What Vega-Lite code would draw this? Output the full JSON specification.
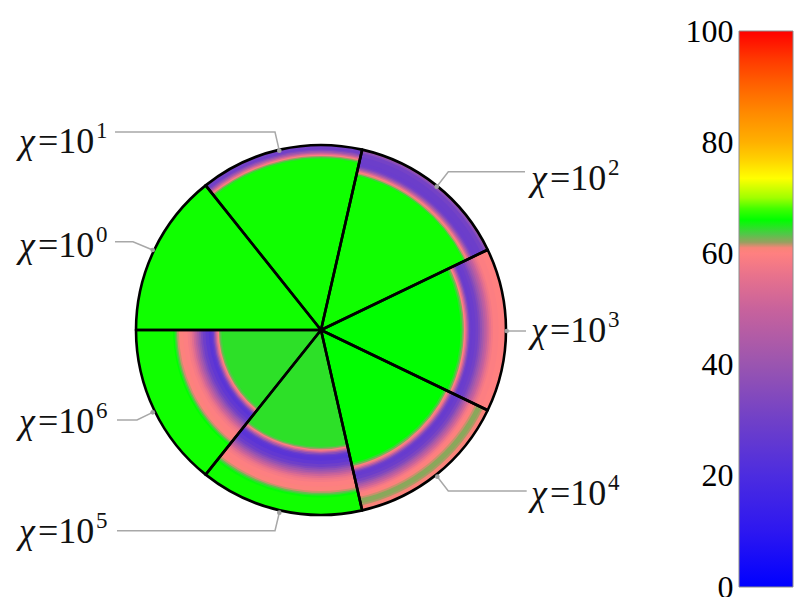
{
  "$schema": "https://vega.github.io/schema/vega-lite/v6.json",
  "background": "white",
  "padding": {"left": 0, "top": 0, "right": 0, "bottom": -6},
  "spacing": 97,
  "bounds": "flush",
  "config": {"view": {"stroke": null}},
  "datasets": {
    "sectors": [
      {"s": 0, "a0": 0, "a1": 51.4286, "e": "0", "lx": -1.6237, "ly": 0.3925},
      {"s": 1, "a0": 51.4286, "a1": 102.8571, "e": "1", "lx": -1.6237, "ly": 0.9516},
      {"s": 2, "a0": 102.8571, "a1": 154.2857, "e": "2", "lx": 1.129, "ly": 0.7527},
      {"s": 3, "a0": 154.2857, "a1": 205.7143, "e": "3", "lx": 1.129, "ly": -0.0645},
      {"s": 4, "a0": 205.7143, "a1": 257.1429, "e": "4", "lx": 1.129, "ly": -0.9409},
      {"s": 5, "a0": 257.1429, "a1": 308.5714, "e": "5", "lx": -1.6237, "ly": -1.1452},
      {"s": 6, "a0": 308.5714, "a1": 360, "e": "6", "lx": -1.6237, "ly": -0.5538}
    ],
    "profile": [
      {"s": 0, "r": 1.000, "v": 66.5},

      {"s": 1, "r": 1.000, "v": 31},
      {"s": 1, "r": 0.984, "v": 30},
      {"s": 1, "r": 0.975, "v": 34},
      {"s": 1, "r": 0.968, "v": 40},
      {"s": 1, "r": 0.961, "v": 47},
      {"s": 1, "r": 0.954, "v": 54},
      {"s": 1, "r": 0.947, "v": 59.5},
      {"s": 1, "r": 0.940, "v": 62},
      {"s": 1, "r": 0.933, "v": 64.5},
      {"s": 1, "r": 0.925, "v": 66.5},

      {"s": 2, "r": 1.000, "v": 42},
      {"s": 2, "r": 0.990, "v": 36},
      {"s": 2, "r": 0.980, "v": 31},
      {"s": 2, "r": 0.960, "v": 29},
      {"s": 2, "r": 0.930, "v": 28.5},
      {"s": 2, "r": 0.915, "v": 30},
      {"s": 2, "r": 0.907, "v": 34},
      {"s": 2, "r": 0.900, "v": 40},
      {"s": 2, "r": 0.893, "v": 47},
      {"s": 2, "r": 0.886, "v": 54},
      {"s": 2, "r": 0.879, "v": 59.5},
      {"s": 2, "r": 0.872, "v": 61.5},
      {"s": 2, "r": 0.865, "v": 64},
      {"s": 2, "r": 0.857, "v": 66.5},

      {"s": 3, "r": 1.000, "v": 60},
      {"s": 3, "r": 0.960, "v": 59.5},
      {"s": 3, "r": 0.930, "v": 58},
      {"s": 3, "r": 0.920, "v": 56},
      {"s": 3, "r": 0.910, "v": 53},
      {"s": 3, "r": 0.900, "v": 49.5},
      {"s": 3, "r": 0.890, "v": 46},
      {"s": 3, "r": 0.880, "v": 42},
      {"s": 3, "r": 0.870, "v": 38},
      {"s": 3, "r": 0.860, "v": 34},
      {"s": 3, "r": 0.850, "v": 30.5},
      {"s": 3, "r": 0.835, "v": 28.5},
      {"s": 3, "r": 0.818, "v": 28},
      {"s": 3, "r": 0.808, "v": 31},
      {"s": 3, "r": 0.801, "v": 38},
      {"s": 3, "r": 0.794, "v": 47},
      {"s": 3, "r": 0.787, "v": 55},
      {"s": 3, "r": 0.780, "v": 60},
      {"s": 3, "r": 0.772, "v": 62.5},
      {"s": 3, "r": 0.764, "v": 64.5},
      {"s": 3, "r": 0.755, "v": 66},

      {"s": 4, "r": 1.000, "v": 60.6},
      {"s": 4, "r": 0.984, "v": 61.0},
      {"s": 4, "r": 0.973, "v": 61.8},
      {"s": 4, "r": 0.962, "v": 62.3},
      {"s": 4, "r": 0.946, "v": 62.3},
      {"s": 4, "r": 0.936, "v": 61.5},
      {"s": 4, "r": 0.926, "v": 60.5},
      {"s": 4, "r": 0.913, "v": 59.8},
      {"s": 4, "r": 0.903, "v": 58},
      {"s": 4, "r": 0.893, "v": 55},
      {"s": 4, "r": 0.883, "v": 51},
      {"s": 4, "r": 0.873, "v": 46.5},
      {"s": 4, "r": 0.863, "v": 42},
      {"s": 4, "r": 0.853, "v": 37},
      {"s": 4, "r": 0.843, "v": 32.5},
      {"s": 4, "r": 0.830, "v": 29},
      {"s": 4, "r": 0.812, "v": 27.5},
      {"s": 4, "r": 0.798, "v": 28.5},
      {"s": 4, "r": 0.790, "v": 33},
      {"s": 4, "r": 0.783, "v": 41},
      {"s": 4, "r": 0.776, "v": 50},
      {"s": 4, "r": 0.769, "v": 57},
      {"s": 4, "r": 0.762, "v": 60.5},
      {"s": 4, "r": 0.755, "v": 62.5},
      {"s": 4, "r": 0.747, "v": 64.5},
      {"s": 4, "r": 0.738, "v": 66},

      {"s": 5, "r": 1.000, "v": 66.5},
      {"s": 5, "r": 0.905, "v": 65.8},
      {"s": 5, "r": 0.896, "v": 64.5},
      {"s": 5, "r": 0.888, "v": 63},
      {"s": 5, "r": 0.880, "v": 61.5},
      {"s": 5, "r": 0.870, "v": 60.4},
      {"s": 5, "r": 0.845, "v": 59.7},
      {"s": 5, "r": 0.822, "v": 58.5},
      {"s": 5, "r": 0.810, "v": 57},
      {"s": 5, "r": 0.800, "v": 54.5},
      {"s": 5, "r": 0.790, "v": 51},
      {"s": 5, "r": 0.780, "v": 47},
      {"s": 5, "r": 0.770, "v": 42.5},
      {"s": 5, "r": 0.760, "v": 38},
      {"s": 5, "r": 0.750, "v": 33.5},
      {"s": 5, "r": 0.740, "v": 29.5},
      {"s": 5, "r": 0.725, "v": 26},
      {"s": 5, "r": 0.705, "v": 24},
      {"s": 5, "r": 0.690, "v": 25},
      {"s": 5, "r": 0.680, "v": 29},
      {"s": 5, "r": 0.673, "v": 36},
      {"s": 5, "r": 0.666, "v": 45},
      {"s": 5, "r": 0.659, "v": 54},
      {"s": 5, "r": 0.652, "v": 59.5},
      {"s": 5, "r": 0.645, "v": 62},
      {"s": 5, "r": 0.638, "v": 63.8},
      {"s": 5, "r": 0.630, "v": 64.6},

      {"s": 6, "r": 1.000, "v": 66.5},
      {"s": 6, "r": 0.800, "v": 66},
      {"s": 6, "r": 0.792, "v": 64.5},
      {"s": 6, "r": 0.785, "v": 63},
      {"s": 6, "r": 0.778, "v": 61.5},
      {"s": 6, "r": 0.769, "v": 60.4},
      {"s": 6, "r": 0.745, "v": 59.7},
      {"s": 6, "r": 0.722, "v": 58.5},
      {"s": 6, "r": 0.710, "v": 57},
      {"s": 6, "r": 0.700, "v": 54.5},
      {"s": 6, "r": 0.690, "v": 51},
      {"s": 6, "r": 0.680, "v": 47},
      {"s": 6, "r": 0.670, "v": 42.5},
      {"s": 6, "r": 0.660, "v": 38},
      {"s": 6, "r": 0.650, "v": 33.5},
      {"s": 6, "r": 0.640, "v": 29.5},
      {"s": 6, "r": 0.625, "v": 26},
      {"s": 6, "r": 0.607, "v": 24},
      {"s": 6, "r": 0.595, "v": 25.5},
      {"s": 6, "r": 0.587, "v": 30},
      {"s": 6, "r": 0.580, "v": 38},
      {"s": 6, "r": 0.573, "v": 48},
      {"s": 6, "r": 0.566, "v": 56},
      {"s": 6, "r": 0.559, "v": 60.5},
      {"s": 6, "r": 0.552, "v": 62.5},
      {"s": 6, "r": 0.545, "v": 63.8},
      {"s": 6, "r": 0.537, "v": 64.6}
    ],
    "leaders": [
      {"e": "0", "k": 0, "x": -0.9048, "y": 0.4301},
      {"e": "0", "k": 1, "x": -1.0108, "y": 0.4747},
      {"e": "0", "k": 2, "x": -1.1075, "y": 0.4747},
      {"e": "1", "k": 0, "x": -0.2242, "y": 0.9640},
      {"e": "1", "k": 1, "x": -0.2473, "y": 1.0645},
      {"e": "1", "k": 2, "x": -1.1075, "y": 1.0645},
      {"e": "2", "k": 0, "x": 0.6220, "y": 0.7704},
      {"e": "2", "k": 1, "x": 0.6844, "y": 0.8511},
      {"e": "2", "k": 2, "x": 1.0968, "y": 0.8511},
      {"e": "3", "k": 0, "x": 0.9984, "y": -0.0054},
      {"e": "3", "k": 1, "x": 1.1022, "y": -0.0054},
      {"e": "4", "k": 0, "x": 0.6253, "y": -0.7887},
      {"e": "4", "k": 1, "x": 0.6844, "y": -0.8656},
      {"e": "4", "k": 2, "x": 1.1059, "y": -0.8656},
      {"e": "5", "k": 0, "x": -0.2242, "y": -0.9823},
      {"e": "5", "k": 1, "x": -0.2473, "y": -1.0790},
      {"e": "5", "k": 2, "x": -1.0968, "y": -1.0790},
      {"e": "6", "k": 0, "x": -0.9048, "y": -0.4425},
      {"e": "6", "k": 1, "x": -0.9892, "y": -0.4839},
      {"e": "6", "k": 2, "x": -1.0968, "y": -0.4839}
    ]
  },
  "hconcat": [
    {
      "width": 642,
      "height": 597,
      "layer": [
        {
          "data": {"name": "profile"},
          "transform": [
            {"lookup": "s", "from": {"data": {"name": "sectors"}, "key": "s", "fields": ["a0", "a1"]}}
          ],
          "mark": {"type": "arc", "stroke": null},
          "encoding": {
            "x": {"datum": 0, "type": "quantitative", "scale": {"domain": [-1.7258, 1.7258], "nice": false, "zero": false}, "axis": null},
            "y": {"datum": 0, "type": "quantitative", "scale": {"domain": [-1.43548, 1.77419], "nice": false, "zero": false}, "axis": null},
            "theta": {"field": "a0", "type": "quantitative", "stack": null, "scale": {"domain": [0, 360], "range": [4.712389, 10.995574]}},
            "theta2": {"field": "a1"},
            "radius": {"field": "r", "type": "quantitative", "scale": {"type": "linear", "domain": [0, 1], "range": [0, 185], "zero": true, "nice": false}},
            "color": {
              "field": "v",
              "type": "quantitative",
              "legend": null,
              "scale": {
                "domain": [0, 10, 20, 30, 40, 50, 56, 60, 61, 62, 63.5, 66, 68, 70, 73.5, 77, 80, 85, 90, 95, 100],
                "range": ["#0000ff", "#2d17f0", "#4c2ce0", "#7040c8", "#9a55b0", "#c8629c", "#e8728c", "#ff8080", "#f88478", "#98a060", "#50c848", "#00ff00", "#40ff00", "#a0ff00", "#ffff00", "#ffd000", "#ffb000", "#ff8c00", "#ff6400", "#ff3800", "#ff0000"],
                "interpolate": "rgb"
              }
            }
          }
        },
        {
          "data": {"name": "sectors"},
          "mark": {"type": "arc", "filled": false, "stroke": "#000000", "strokeWidth": 2.6, "strokeJoin": "round"},
          "encoding": {
            "x": {"datum": 0, "type": "quantitative", "axis": null},
            "y": {"datum": 0, "type": "quantitative", "axis": null},
            "theta": {"field": "a0", "type": "quantitative", "stack": null},
            "theta2": {"field": "a1"},
            "radius": {"datum": 1, "type": "quantitative"}
          }
        },
        {
          "data": {"name": "leaders"},
          "mark": {"type": "line", "color": "#a8a8a8", "strokeWidth": 1.5, "interpolate": "linear"},
          "encoding": {
            "x": {"field": "x", "type": "quantitative", "axis": null},
            "y": {"field": "y", "type": "quantitative", "axis": null},
            "detail": {"field": "e"},
            "order": {"field": "k", "type": "ordinal"}
          }
        },
        {
          "data": {"name": "leaders"},
          "transform": [{"filter": "datum.k == 0"}],
          "mark": {"type": "point", "filled": true, "color": "#a0a0a0", "size": 22, "opacity": 1},
          "encoding": {
            "x": {"field": "x", "type": "quantitative", "axis": null},
            "y": {"field": "y", "type": "quantitative", "axis": null}
          }
        },
        {
          "data": {"name": "sectors"},
          "mark": {"type": "text", "text": "χ", "font": "Liberation Serif, Times New Roman, serif", "fontStyle": "italic", "fontSize": 36, "align": "left", "baseline": "alphabetic", "color": "#111111"},
          "encoding": {
            "x": {"field": "lx", "type": "quantitative", "axis": null},
            "y": {"field": "ly", "type": "quantitative", "axis": null}
          }
        },
        {
          "data": {"name": "sectors"},
          "mark": {"type": "text", "text": "=10", "font": "Liberation Serif, Times New Roman, serif", "fontSize": 36, "align": "left", "baseline": "alphabetic", "dx": 19, "color": "#111111"},
          "encoding": {
            "x": {"field": "lx", "type": "quantitative", "axis": null},
            "y": {"field": "ly", "type": "quantitative", "axis": null}
          }
        },
        {
          "data": {"name": "sectors"},
          "mark": {"type": "text", "font": "Liberation Serif, Times New Roman, serif", "fontSize": 23, "align": "left", "baseline": "alphabetic", "dx": 77, "dy": -15, "color": "#111111"},
          "encoding": {
            "x": {"field": "lx", "type": "quantitative", "axis": null},
            "y": {"field": "ly", "type": "quantitative", "axis": null},
            "text": {"field": "e"}
          }
        }
      ]
    },
    {
      "width": 54,
      "height": 587,
      "data": {"values": [{"lo": 0, "hi": 100}]},
      "mark": {
        "type": "rect",
        "stroke": "#8c8c8c",
        "strokeWidth": 1,
        "fill": {
          "gradient": "linear",
          "x1": 0, "y1": 1, "x2": 0, "y2": 0,
          "stops": [
            {"offset": 0.00, "color": "#0000ff"},
            {"offset": 0.10, "color": "#2d17f0"},
            {"offset": 0.20, "color": "#4c2ce0"},
            {"offset": 0.30, "color": "#7040c8"},
            {"offset": 0.40, "color": "#9a55b0"},
            {"offset": 0.50, "color": "#c8629c"},
            {"offset": 0.56, "color": "#e8728c"},
            {"offset": 0.60, "color": "#ff8080"},
            {"offset": 0.61, "color": "#f88478"},
            {"offset": 0.62, "color": "#98a060"},
            {"offset": 0.635, "color": "#50c848"},
            {"offset": 0.66, "color": "#00ff00"},
            {"offset": 0.68, "color": "#40ff00"},
            {"offset": 0.70, "color": "#a0ff00"},
            {"offset": 0.735, "color": "#ffff00"},
            {"offset": 0.77, "color": "#ffd000"},
            {"offset": 0.80, "color": "#ffb000"},
            {"offset": 0.85, "color": "#ff8c00"},
            {"offset": 0.90, "color": "#ff6400"},
            {"offset": 0.95, "color": "#ff3800"},
            {"offset": 1.00, "color": "#ff0000"}
          ]
        }
      },
      "encoding": {
        "x": {"datum": 0, "type": "quantitative", "scale": {"domain": [0, 1], "nice": false}, "axis": null},
        "x2": {"datum": 1},
        "y": {
          "field": "lo",
          "type": "quantitative",
          "scale": {"domain": [0, 105.576], "nice": false, "zero": true},
          "axis": {"orient": "left", "values": [0, 20, 40, 60, 80, 100], "title": null, "grid": false, "domain": false, "ticks": false, "labelPadding": 6, "labelFont": "Liberation Serif, Times New Roman, serif", "labelFontSize": 32, "labelColor": "#000000"}
        },
        "y2": {"field": "hi"}
      }
    }
  ]
}
